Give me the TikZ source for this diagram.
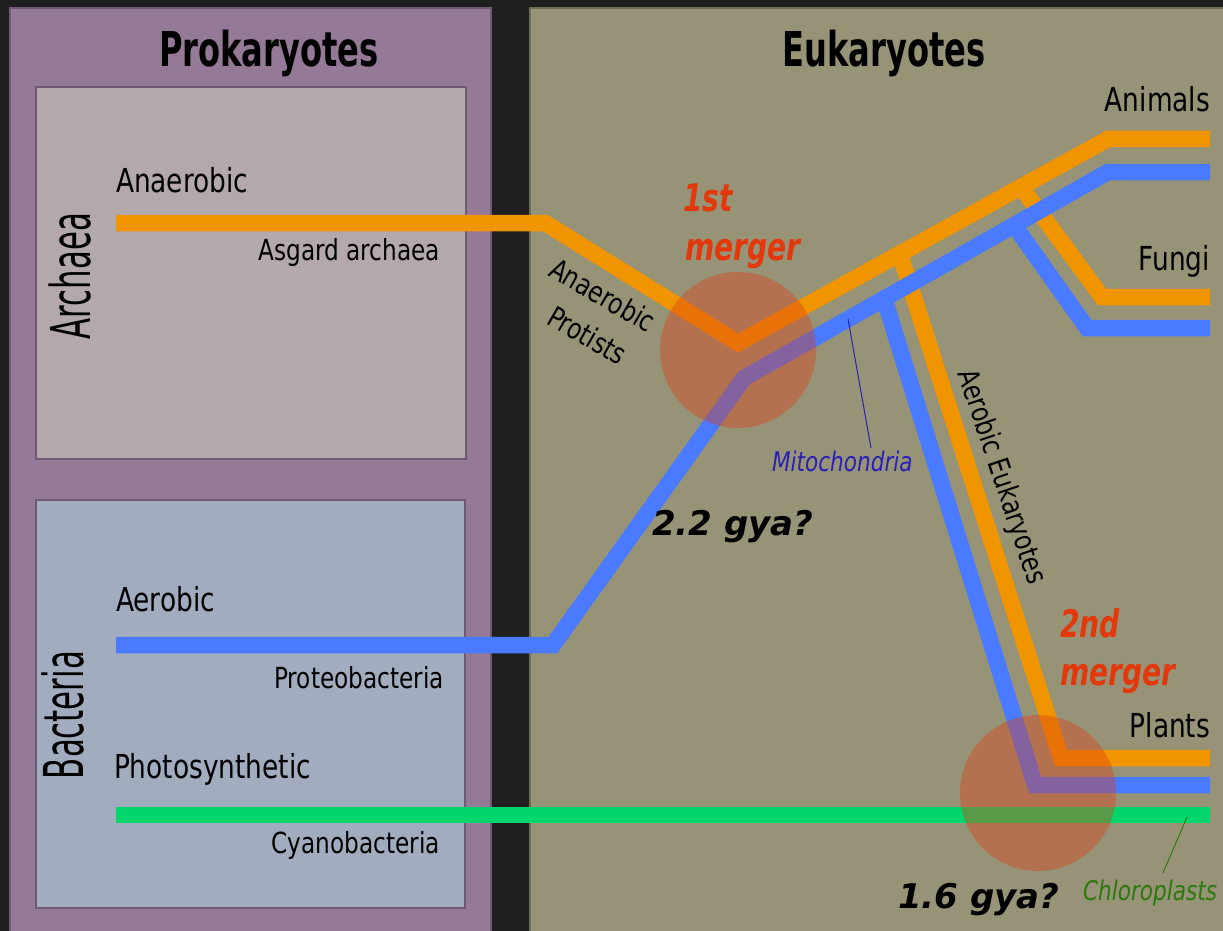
\documentclass[tikz,border=0pt]{standalone}
\usepackage{fontspec}
\newfontfamily\labf[FakeStretch=0.8]{DejaVu Sans}
\newfontfamily\ttlf[FakeStretch=0.67]{DejaVu Sans}
\newfontfamily\domf[FakeStretch=0.56]{DejaVu Sans}
\newfontfamily\merf[FakeStretch=0.74]{DejaVu Sans}
\newfontfamily\gyaf{DejaVu Sans}
\definecolor{bgdark}{HTML}{1F1F1F}
\definecolor{prokbg}{HTML}{957A98}
\definecolor{prokedge}{HTML}{6E5A73}
\definecolor{eukbg}{HTML}{979377}
\definecolor{eukedge}{HTML}{6F6C58}
\definecolor{archbg}{HTML}{B3A8AB}
\definecolor{bactbg}{HTML}{A1ACBE}
\definecolor{orangeline}{HTML}{F09400}
\definecolor{blueline}{HTML}{4A7AFF}
\definecolor{greenline}{HTML}{00D66B}
\definecolor{mergecol}{HTML}{DD4013}
\definecolor{redtext}{HTML}{E3380B}
\definecolor{mitocol}{HTML}{2A20B8}
\definecolor{chlorocol}{HTML}{2D780F}
\tikzset{
  lineage/.style={line width=16.5pt, line join=miter, line cap=butt},
  orangepath/.style={lineage, draw=orangeline},
  bluepath/.style={lineage, draw=blueline},
  greenpath/.style={lineage, draw=greenline},
  mergedisc/.style={fill=mergecol, fill opacity=0.4},
  panelbox/.style={line width=1.5pt},
  txtlab/.style={inner sep=0pt, outer sep=0pt},
  titlelab/.style={txtlab, font=\ttlf\bfseries\fontsize{48}{52}\selectfont},
  biglab/.style={txtlab, font=\labf\fontsize{33}{40}\selectfont},
  smalllab/.style={txtlab, font=\labf\fontsize{29}{35}\selectfont},
  domainlab/.style={txtlab, font=\domf\fontsize{55}{60}\selectfont, rotate=90, anchor=base},
  mergerlab/.style={txtlab, font=\merf\bfseries\itshape\fontsize{38}{44}\selectfont, text=redtext, anchor=base west},
  gyalab/.style={txtlab, font=\gyaf\bfseries\itshape\fontsize{34}{40}\selectfont, anchor=base west},
  organellelab/.style={txtlab, font=\labf\itshape\fontsize{27}{32}\selectfont, anchor=base west},
}
\begin{document}
\begin{tikzpicture}[x=1pt,y=-1pt]
\useasboundingbox (0,0) rectangle (1223,931);
\fill[bgdark] (0,0) rectangle (1223,931);
% panels
\draw[panelbox, fill=prokbg, draw=prokedge] (10,8) rectangle (491,940);
\draw[panelbox, fill=eukbg, draw=eukedge] (530,8) rectangle (1230,940);
\draw[panelbox, fill=archbg, draw=prokedge] (36,87) rectangle (466,459);
\draw[panelbox, fill=bactbg, draw=prokedge] (36,500) rectangle (465,908);
% titles
\node[titlelab, anchor=base] (prok) at (269,67) {Prokaryotes};
\node[titlelab, anchor=base] (euk) at (884,67) {Eukaryotes};
\node[domainlab] (archaea) at (90,276) {Archaea};
\node[domainlab] (bacteria) at (83,715) {Bacteria};
% coordinates of the lineages
\coordinate (oa) at (116,223);
\coordinate (ob) at (545,223);
\coordinate (ov) at (738,343);
\coordinate (oc) at (1108,139);
\coordinate (oanimal) at (1210,139);
\coordinate (ofs) at (1021,187);
\coordinate (ofc) at (1102,297);
\coordinate (ofungi) at (1210,297);
\coordinate (ops) at (900,254);
\coordinate (opc) at (1061,758);
\coordinate (oplant) at (1210,758);
\coordinate (ba) at (116,645);
\coordinate (bb) at (553,645);
\coordinate (bv) at (744,378);
\coordinate (bc) at (1108,172);
\coordinate (banimal) at (1210,172);
\coordinate (bfs) at (1014,225);
\coordinate (bfc) at (1087,328);
\coordinate (bfungi) at (1210,328);
\coordinate (bps) at (884,298);
\coordinate (bpc) at (1035,785);
\coordinate (bplant) at (1210,785);
\coordinate (ga) at (116,815);
\coordinate (gend) at (1210,815);
% orange (archaeal) lineages
\draw[orangepath] (oa) -- (ob) -- (ov) -- (oc) -- (oanimal);
\draw[orangepath] (ofs) -- (ofc) -- (ofungi);
\draw[orangepath] (ops) -- (opc) -- (oplant);
% blue (mitochondrial) lineages
\draw[bluepath] (ba) -- (bb) -- (bv) -- (bc) -- (banimal);
\draw[bluepath] (bfs) -- (bfc) -- (bfungi);
\draw[bluepath] (bps) -- (bpc) -- (bplant);
% green (chloroplast) lineage
\draw[greenpath] (ga) -- (gend);
% mergers
\fill[mergedisc] (738,350) circle (78);
\fill[mergedisc] (1038,793) circle (78);
% labels
\node[biglab, anchor=base west] (anaer) at (116,192) {Anaerobic};
\node[smalllab, anchor=base east] (asgard) at (440,260) {Asgard archaea};
\node[biglab, anchor=base west] (aer) at (116,611) {Aerobic};
\node[smalllab, anchor=base east] (proteo) at (444,688) {Proteobacteria};
\node[biglab, anchor=base west] (photo) at (114,778) {Photosynthetic};
\node[smalllab, anchor=base east] (cyano) at (440,853) {Cyanobacteria};
\node[biglab, anchor=base east] (animals) at (1210,112) {Animals};
\node[biglab, anchor=base east] (fungi) at (1210,270) {Fungi};
\node[biglab, anchor=base east] (plants) at (1210,737) {Plants};
\node[smalllab, anchor=base west, rotate=-30] (anprot1) at (547,275) {Anaerobic};
\node[smalllab, anchor=base west, rotate=-30] (anprot2) at (545,323) {Protists};
\node[smalllab, anchor=center, rotate=-71.5] (aeeuk) at (1001,477) {Aerobic Eukaryotes};
\node[mergerlab] (m1a) at (683,211) {1st};
\node[mergerlab] (m1b) at (685,260) {merger};
\node[mergerlab] (m2a) at (1060,637) {2nd};
\node[mergerlab] (m2b) at (1060,685) {merger};
\node[gyalab] (gya1) at (652,535) {2.2 gya?};
\node[gyalab] (gya2) at (898,908) {1.6 gya?};
\node[organellelab, text=mitocol] (mito) at (772,471) {Mitochondria};
\node[organellelab, text=chlorocol] (chloro) at (1083,900) {Chloroplasts};
\coordinate (mitotip) at (848,319);
\coordinate (mitofoot) at (871,448);
\coordinate (chlorotip) at (1187,817);
\coordinate (chlorofoot) at (1163,873);
\draw[mitocol, line width=1pt] (mitotip) -- (mitofoot);
\draw[chlorocol, line width=1pt] (chlorotip) -- (chlorofoot);
\end{tikzpicture}
\end{document}
